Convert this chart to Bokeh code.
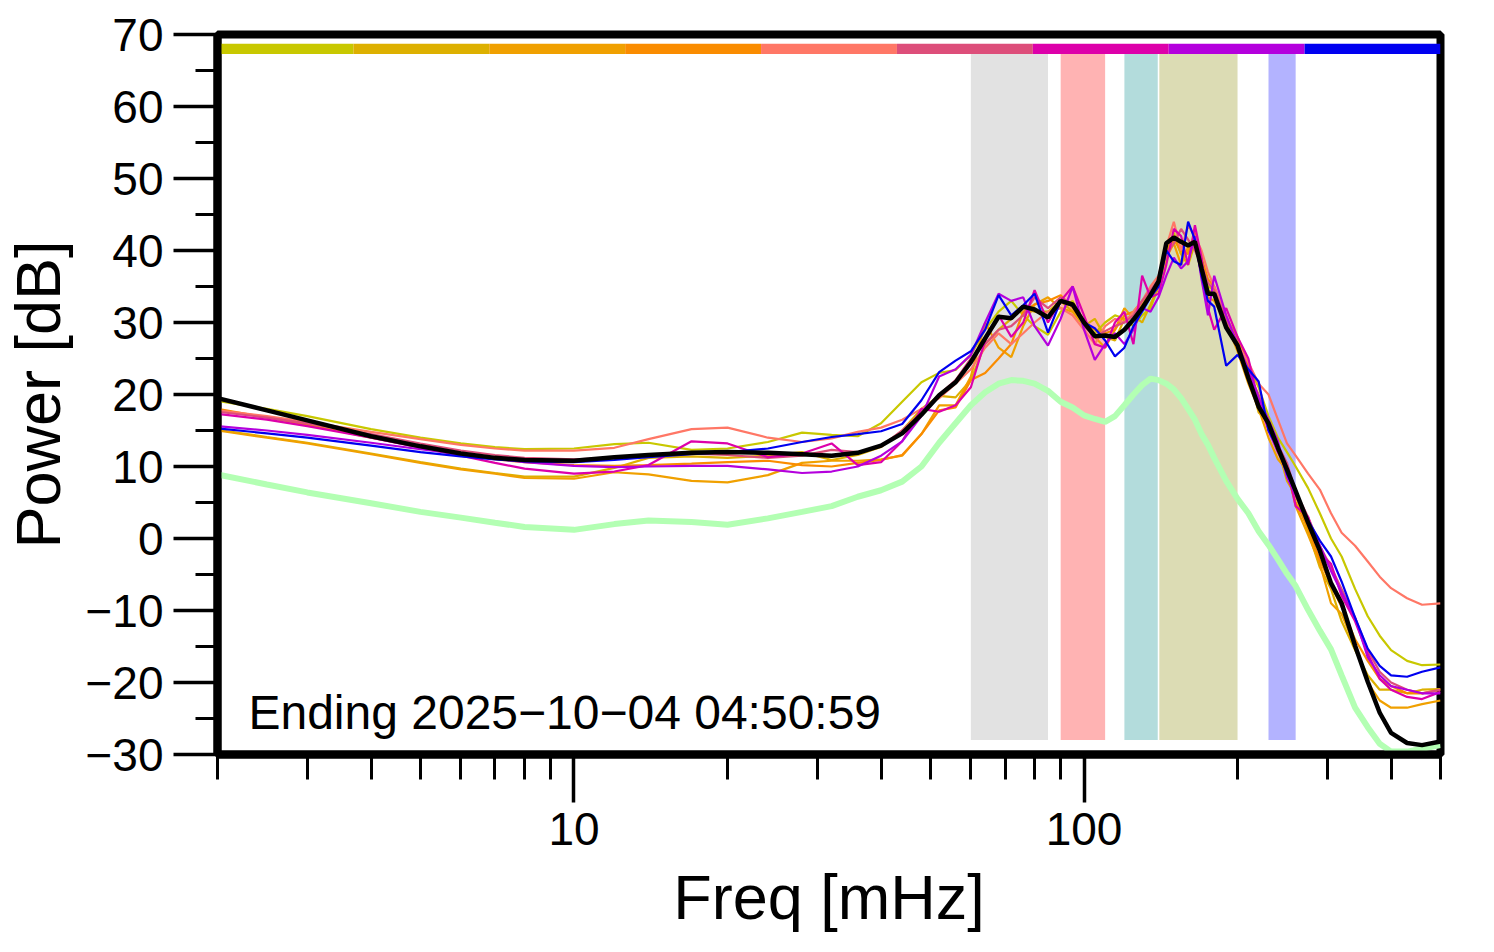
import numpy as np
from bokeh.plotting import figure
from bokeh.models import Range1d, FixedTicker, Label
from bokeh.embed import file_html
from bokeh.resources import INLINE

# ---------------- data ----------------
freq_mhz = [2, 2.5, 3, 4, 5, 6, 7, 8,
            10, 12, 14, 17, 20, 24, 28, 32, 36, 40,
            44, 48, 52, 56, 60, 64, 68, 72, 76, 80,
            85, 90, 95, 100, 105, 110, 115, 120, 125, 130,
            135, 140, 145, 150, 155, 160, 165, 170, 175, 180,
            190, 200, 210, 220, 230, 240, 250, 260, 275, 290,
            305, 320, 340, 360, 380, 400, 430, 460, 500]

series_colors = ["#c8c800", "#ddb000", "#f0a000", "#fa8c00", "#ff7766",
                 "#dd4e7a", "#dd00aa", "#b400dd", "#0000f0"]

s1_db = [19.1, 18.0, 17.0, 15.2, 14.0, 13.2, 12.7, 12.4,
         12.5, 13.1, 13.3, 12.3, 12.5, 13.4, 14.7, 14.4, 14.2, 16.0,
         19.0, 21.7, 23.0, 23.4, 25.5, 29.0, 31.5, 33.0, 31.0, 29.5,
         28.3, 31.5, 33.0, 30.0, 28.5, 30.0, 31.0, 30.5, 29.5, 31.0,
         32.0, 35.0, 39.0, 42.5, 39.5, 40.0, 42.0, 38.5, 35.0, 34.5,
         30.0, 27.5, 24.0, 21.0, 17.0, 14.0, 12.0, 10.0, 7.0, 3.5,
         0.0, -2.5, -7.0, -10.8, -13.5, -15.5, -17.0, -17.6, -17.5]
s2_db = [15.1, 14.1, 13.3, 11.8, 10.6, 9.7, 9.1, 8.6,
         8.6, 9.8, 11.2, 11.4, 11.2, 11.5, 12.0, 10.9, 11.6, 12.7,
         15.0, 18.0, 19.8, 19.6, 22.0, 27.0, 29.0, 30.5, 32.0, 31.5,
         31.5, 33.0, 31.5, 29.5, 30.5, 28.0, 27.5, 30.5, 31.0, 30.0,
         32.5, 35.0, 40.5, 42.0, 39.5, 38.0, 41.0, 38.0, 34.5, 34.0,
         30.0, 27.0, 23.0, 17.5, 16.5, 12.5, 8.0, 6.0, 1.0, -4.0,
         -7.0, -11.5, -15.5, -19.0, -21.0, -21.0, -21.5, -21.0, -20.9]
s3_db = [15.0, 14.0, 13.2, 11.7, 10.5, 9.6, 9.0, 8.4,
         8.3, 9.2, 8.9, 8.0, 7.8, 8.8, 10.5, 10.8, 10.8, 11.0,
         11.5, 14.5, 18.5, 18.5, 22.5, 30.0, 26.5, 25.2, 29.5, 32.5,
         33.5, 32.0, 31.5, 30.0, 28.0, 26.5, 29.0, 32.0, 30.5, 32.5,
         34.0, 35.0, 39.0, 41.0, 38.0, 40.5, 41.5, 36.5, 33.5, 33.0,
         30.0, 26.0, 21.5, 18.0, 14.0, 11.0, 9.5, 4.5, 0.5, -3.5,
         -9.0, -10.5, -15.0, -20.0, -22.5, -23.5, -23.5, -23.0, -22.5]
s4_db = [18.0, 16.8, 15.8, 14.0, 12.7, 11.7, 11.0, 10.6,
         10.2, 10.1, 10.2, 10.4, 10.6, 10.8, 10.2, 10.0, 10.5, 10.9,
         11.6, 14.5, 17.8, 18.2, 22.0, 23.0, 25.0, 27.0, 31.5, 32.5,
         33.0, 33.8, 32.0, 30.0, 29.0, 28.5, 29.0, 31.0, 31.5, 33.0,
         34.0, 35.5, 40.0, 41.5, 40.0, 39.5, 42.5, 39.0, 36.0, 35.0,
         30.5, 28.0, 24.0, 18.5, 15.5, 12.0, 9.0, 5.0, 1.5, -3.0,
         -6.5, -9.5, -14.0, -17.0, -19.5, -20.5, -21.5, -21.5, -21.0]
s5_db = [17.8, 17.0, 16.2, 14.8, 13.8, 13.0, 12.5, 12.2,
         12.2, 12.6, 13.8, 15.2, 15.4, 14.0, 13.4, 13.9, 14.8, 15.4,
         16.5, 18.0, 19.5, 21.5, 23.5, 26.5, 28.5, 27.0, 28.5, 30.0,
         31.5, 32.0, 31.0, 29.0, 27.0, 29.5, 30.5, 30.0, 31.5, 33.0,
         35.0, 36.5, 40.5, 44.0, 40.0, 43.5, 42.0, 40.0, 37.0, 35.0,
         31.0, 27.0, 24.5, 21.5, 20.0, 16.5, 13.2, 11.5, 9.0, 6.8,
         3.5, 0.8, -1.0, -3.2, -5.3, -6.9, -8.3, -9.2, -9.0]
s6_db = [17.6, 16.8, 16.0, 14.5, 13.2, 12.2, 11.6, 11.2,
         11.0, 11.2, 11.5, 11.8, 11.6, 11.2, 11.5, 12.3, 12.0, 12.8,
         15.0, 17.5, 20.0, 22.0, 25.0, 27.0, 29.0, 29.5, 31.0, 33.5,
         32.0, 33.5, 32.5, 29.5, 28.0, 28.8, 29.5, 30.0, 31.0, 33.0,
         34.5, 36.0, 39.5, 41.0, 43.0, 41.5, 40.0, 38.0, 35.5, 34.5,
         30.5, 27.0, 23.0, 20.0, 16.0, 13.0, 10.5, 6.5, 3.0, -1.0,
         -4.0, -7.0, -11.0, -15.5, -18.5, -20.0, -21.0, -21.5, -21.0]
s7_db = [17.3, 16.5, 15.6, 14.0, 12.6, 11.5, 10.5, 9.7,
         9.0, 9.3, 10.2, 13.5, 13.2, 11.3, 11.8, 13.2, 10.2, 10.6,
         13.5, 18.0, 17.6, 18.5, 21.0, 27.5, 31.0, 28.0, 30.0, 34.5,
         30.0, 33.0, 35.0, 31.0, 27.0, 26.5, 30.0, 31.5, 27.0, 36.5,
         33.5, 34.0, 38.0, 43.0, 42.0, 38.0, 43.5, 39.0, 32.0, 29.0,
         32.0, 28.0, 25.0, 19.0, 15.0, 12.0, 10.0, 4.5, 3.0, -2.0,
         -3.5, -8.0, -11.5, -16.0, -19.5, -21.0, -22.0, -22.3, -21.3]
s8_db = [15.6, 15.0, 14.4, 13.3, 12.4, 11.7, 11.1, 10.6,
         10.1, 9.9, 10.0, 10.1, 10.1, 9.6, 9.1, 9.3, 10.0, 11.5,
         13.5, 17.0, 22.5, 23.5, 25.5, 30.0, 34.0, 33.0, 33.5, 29.5,
         26.8, 30.5, 35.0, 29.0, 24.8, 27.0, 28.5, 27.0, 29.0, 32.0,
         31.5, 33.5, 36.5, 39.0, 37.5, 38.5, 42.0, 36.0, 31.0, 36.5,
         31.0, 27.0, 23.5, 19.5, 16.5, 13.5, 8.5, 6.0, 2.5, -1.0,
         -4.5, -7.5, -11.0, -16.5, -19.0, -20.5, -21.0, -21.5, -21.5]
s9_db = [15.3, 14.6, 14.0, 12.9, 12.0, 11.4, 11.0, 10.7,
         10.6, 10.9, 11.3, 11.7, 12.0, 12.5, 13.4, 14.1, 14.5, 14.9,
         15.9, 19.2, 23.1, 24.7, 26.0, 29.0, 33.8, 31.0, 32.4, 34.0,
         28.6, 33.0, 32.3, 30.0, 29.2, 27.5, 25.3, 26.5, 29.5, 31.5,
         33.5, 35.0, 40.0, 38.5, 38.0, 44.0, 41.5, 36.5, 33.0, 32.2,
         24.0, 25.5, 23.5, 21.8, 15.0, 12.5, 9.0, 6.5, 2.5, -0.3,
         -2.5, -6.0, -11.0, -15.3, -17.7, -19.0, -19.2, -18.5, -17.9]
mean_db = [19.5, 17.8, 16.4, 14.2, 12.8, 11.8, 11.2, 10.9,
           10.8, 11.3, 11.6, 11.9, 12.0, 11.9, 11.7, 11.5, 11.9, 12.9,
           14.6, 17.2, 19.9, 21.7, 24.5, 27.8, 30.8, 30.6, 32.2, 31.8,
           30.7, 33.0, 32.5, 30.0, 28.1, 28.2, 28.0, 29.0, 30.4, 32.0,
           33.8, 35.7, 41.0, 41.8, 41.2, 40.7, 41.2, 37.5, 34.0, 34.0,
           29.3, 26.8, 22.3, 18.3, 16.0, 12.6, 9.6, 6.6, 2.2, -1.7,
           -6.2, -9.0, -14.9, -19.9, -24.2, -27.0, -28.4, -28.7, -28.2]
quiet_db = [8.9, 7.5, 6.4, 4.9, 3.7, 2.9, 2.2, 1.6,
            1.2, 2.0, 2.5, 2.3, 1.9, 2.8, 3.7, 4.5, 5.8, 6.7,
            7.9, 10.0, 13.3, 16.0, 18.5, 20.3, 21.5, 22.0, 21.9, 21.5,
            20.5, 19.0, 18.2, 17.1, 16.6, 16.2, 17.0, 18.5, 20.0, 21.3,
            22.2, 22.0, 21.5, 20.7, 19.5, 18.0, 16.5, 14.5, 13.0, 11.2,
            8.0, 5.5, 3.5, 1.0, -0.9, -2.9, -4.9, -6.6, -9.9, -12.8,
            -15.4, -19.0, -23.5, -26.2, -28.5, -29.6, -29.6, -29.2, -28.7]

band_lo = [60, 90, 120, 140.5, 230]
band_hi = [85, 110, 139.5, 200, 260]
band_colors = ["#e2e2e2", "#ffb3b3", "#b3dcdc", "#dcdcb4", "#b3b3ff"]

y_ticks = [-30, -20, -10, 0, 10, 20, 30, 40, 50, 60, 70]
y_minor = [-25, -15, -5, 5, 15, 25, 35, 45, 55, 65]
x_ticks = [10, 100]
x_minor = [2, 3, 4, 5, 6, 7, 8, 9, 20, 30, 40, 50, 60, 70, 80, 90, 200, 300, 400, 500]

label_text = "Ending 2025\u221210\u221204 04:50:59"

# ---------------- figure ----------------
FONT = "Liberation Sans"
x_lo, x_hi = 2, 500
y_lo, y_hi = -30, 70

p = figure(width=1490, height=952, x_axis_type="log",
           x_range=Range1d(x_lo, x_hi), y_range=Range1d(y_lo, y_hi),
           output_backend="svg", toolbar_location=None,
           min_border_left=215, min_border_right=50,
           min_border_top=34, min_border_bottom=198)
p.xgrid.visible = False
p.ygrid.visible = False
p.background_fill_color = "white"
p.border_fill_color = "white"
p.outline_line_color = "black"
p.outline_line_width = 8
p.outline_line_alpha = 1.0

# bands
p.quad(left=band_lo, right=band_hi, bottom=-28.0, top=67.3,
       fill_color=band_colors, line_color=None)

# colour strip (equal log segments across the x range)
edges = np.logspace(np.log10(x_lo), np.log10(x_hi), len(series_colors) + 1)
p.quad(left=edges[:-1], right=edges[1:], bottom=67.3, top=68.7,
       fill_color=series_colors, line_color=None)

# quiet reference
p.line(freq_mhz, quiet_db, line_color="#b3ffb3", line_width=6)

all_series = [s1_db, s2_db, s3_db, s4_db, s5_db, s6_db, s7_db, s8_db, s9_db]
for vals, col in zip(all_series, series_colors):
    p.line(freq_mhz, vals, line_color=col, line_width=2.2)

p.line(freq_mhz, mean_db, line_color="black", line_width=4.5)

p.add_layout(Label(x=2.3, y=-24.2, text=label_text, text_font=FONT,
                   text_font_size="48px", text_color="black",
                   text_baseline="alphabetic", text_align="left"))

# axes
xa = p.xaxis[0]
xa.ticker = FixedTicker(ticks=x_ticks, minor_ticks=x_minor)
xa.major_label_overrides = {t: str(t) for t in x_ticks}
xa.axis_label = "Freq [mHz]"
xa.major_tick_out = 48
xa.minor_tick_out = 25
xa.major_label_standoff = 10
xa.axis_label_standoff = 14

ya = p.yaxis[0]
ya.ticker = FixedTicker(ticks=y_ticks, minor_ticks=y_minor)
ya.major_label_overrides = {t: str(t).replace("-", "\u2212") for t in y_ticks}
ya.axis_label = "Power [dB]"
ya.major_tick_out = 44
ya.minor_tick_out = 22
ya.major_label_standoff = 10
ya.axis_label_standoff = 9

for ax in (xa, ya):
    ax.axis_line_color = "black"
    ax.axis_line_width = 8
    ax.major_tick_in = 0
    ax.minor_tick_in = 0
    ax.major_tick_line_width = 3.5
    ax.minor_tick_line_width = 3
    ax.major_tick_line_color = "black"
    ax.minor_tick_line_color = "black"
    ax.major_label_text_font = FONT
    ax.major_label_text_font_size = "46px"
    ax.major_label_text_color = "black"
    ax.axis_label_text_font = FONT
    ax.axis_label_text_font_size = "63px"
    ax.axis_label_text_font_style = "normal"
    ax.axis_label_text_color = "black"

open("out.html", "w").write(file_html(p, INLINE))
